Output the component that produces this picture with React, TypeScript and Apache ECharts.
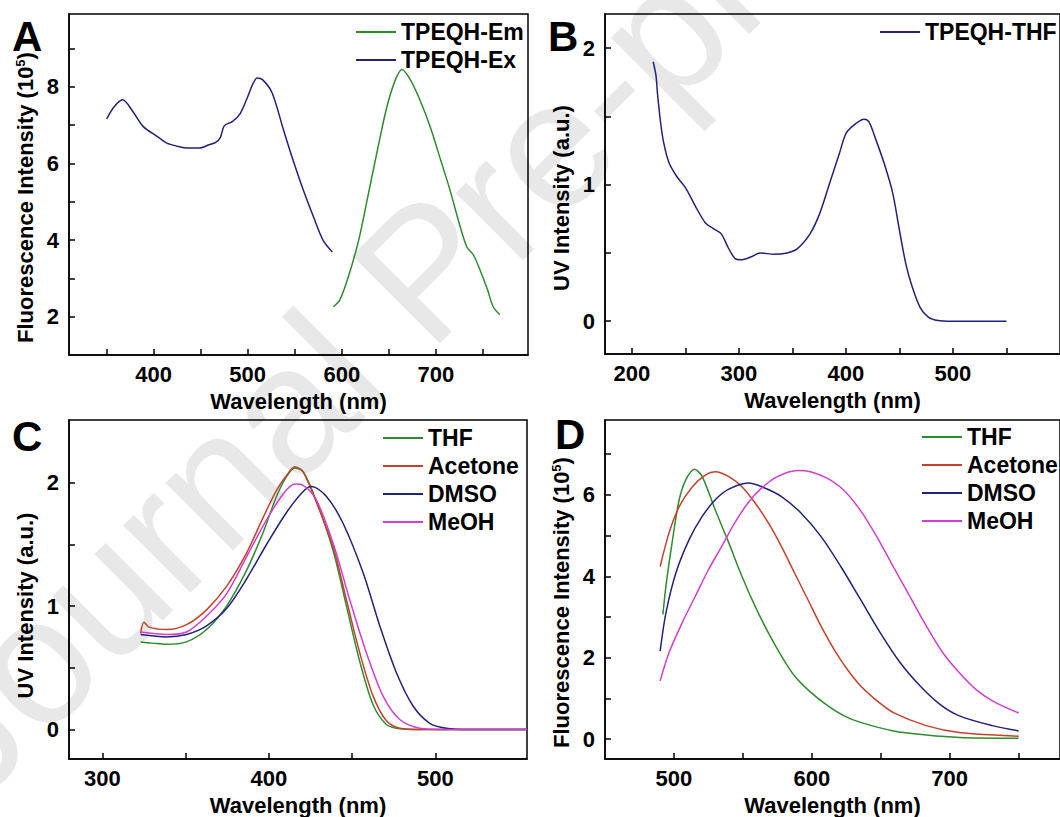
import React, { useEffect, useRef } from "react";
import * as echarts from "echarts";

const FONT = '"Liberation Sans", Arial, Helvetica, sans-serif';

// Panel A: fluorescence excitation / emission
const aExX = [350, 358, 367, 378, 389, 404, 414, 425, 436, 449, 458, 466, 471, 475, 484, 492, 500, 505, 510, 516, 526, 538, 548, 559, 570, 580, 590];
const aExY = [7.16, 7.48, 7.66, 7.35, 6.96, 6.7, 6.53, 6.45, 6.4, 6.4, 6.48, 6.55, 6.68, 6.98, 7.1, 7.3, 7.74, 8.05, 8.23, 8.18, 7.84, 6.88, 6.1, 5.31, 4.6, 4.0, 3.69];
const aEmX = [591, 598, 607, 618, 627, 638, 648, 657, 664, 673, 683, 694, 705, 715, 726, 733, 740, 747, 755, 761, 768];
const aEmY = [2.26, 2.44, 3.04, 4.0, 5.05, 6.36, 7.48, 8.18, 8.45, 8.18, 7.66, 6.96, 6.1, 5.31, 4.34, 3.82, 3.61, 3.22, 2.7, 2.26, 2.05];

// Panel B: UV absorption in THF
const bX = [220, 222.6, 224, 227, 230, 234.8, 242, 250, 259.6, 268.8, 276, 283.6, 290, 296.4, 302, 311, 320, 333, 345, 354.5, 366.5, 375.6, 384.8, 394, 400.4, 409.6, 417, 421.6, 428, 435.6, 443.7, 449.5, 456, 462, 469.4, 477, 486, 499, 520, 550];
const bY = [1.9, 1.8, 1.67, 1.45, 1.3, 1.16, 1.06, 0.98, 0.84, 0.72, 0.68, 0.64, 0.54, 0.46, 0.45, 0.47, 0.5, 0.49, 0.5, 0.53, 0.64, 0.79, 1.01, 1.23, 1.38, 1.45, 1.48, 1.46, 1.33, 1.16, 0.94, 0.69, 0.42, 0.25, 0.1, 0.03, 0.005, 0, 0, 0];

// Panel C: UV absorption in solvents
const cThfX = [323, 330, 338.6, 350.6, 362.6, 374.6, 386.6, 396.6, 404.6, 410.6, 415.6, 420.6, 428.6, 438.6, 446.6, 454.6, 462.6, 470.6, 478.6, 490, 555];
const cThfY = [0.71, 0.7, 0.69, 0.71, 0.81, 1.0, 1.29, 1.6, 1.89, 2.05, 2.12, 2.09, 1.85, 1.45, 1.0, 0.55, 0.2, 0.04, 0.005, 0, 0];
const cAceX = [323, 325, 328, 338.6, 350.6, 362.6, 374.6, 386.6, 396.6, 404.6, 410.6, 415.6, 420.6, 428.6, 438.6, 446.6, 454.6, 462.6, 470.6, 478.6, 490, 555];
const cAceY = [0.78, 0.87, 0.83, 0.81, 0.85, 0.97, 1.16, 1.43, 1.72, 1.94, 2.06, 2.13, 2.09, 1.84, 1.48, 1.05, 0.62, 0.27, 0.07, 0.01, 0, 0];
const cDmsoX = [323, 338.6, 350.6, 362.6, 374.6, 386.6, 398.6, 410.6, 420.6, 425.6, 434.6, 444.6, 456.6, 466.6, 476.6, 486.6, 496.6, 506.6, 520, 555];
const cDmsoY = [0.77, 0.75, 0.77, 0.84, 0.98, 1.22, 1.5, 1.76, 1.93, 1.97, 1.89, 1.67, 1.27, 0.84, 0.46, 0.19, 0.05, 0.01, 0, 0];
const cMeohX = [323, 338.6, 350.6, 362.6, 374.6, 386.6, 398.6, 408.6, 415.6, 420.6, 428.6, 438.6, 448.6, 458.6, 468.6, 478.6, 490.6, 505, 555];
const cMeohY = [0.79, 0.77, 0.79, 0.92, 1.1, 1.4, 1.7, 1.91, 1.99, 1.98, 1.86, 1.51, 1.05, 0.62, 0.27, 0.08, 0.01, 0, 0];

// Panel D: fluorescence in solvents
const dThfX = [492, 494.2, 499, 503.8, 508.6, 515, 520.5, 530, 539.8, 549.3, 558.9, 568.5, 578, 587.5, 599.5, 611.5, 623.4, 635.3, 659.2, 683, 707, 750];
const dThfY = [3.06, 3.76, 4.9, 5.88, 6.37, 6.63, 6.45, 5.63, 4.82, 4.0, 3.26, 2.61, 2.04, 1.55, 1.14, 0.82, 0.57, 0.41, 0.2, 0.1, 0.04, 0.02];
const dAceX = [490, 496.4, 503.8, 513.4, 523, 530, 539.8, 549.3, 558.9, 568.5, 578, 587.5, 597.1, 606.6, 616.2, 625.8, 635.3, 647.3, 659.2, 683, 707, 750];
const dAceY = [4.24, 5.06, 5.71, 6.2, 6.49, 6.57, 6.45, 6.2, 5.8, 5.31, 4.73, 4.08, 3.43, 2.78, 2.2, 1.71, 1.31, 0.94, 0.65, 0.33, 0.16, 0.07];
const dDmsoX = [490, 494.2, 501.4, 511, 520.5, 530, 539.8, 554, 563.7, 578, 592.3, 606.6, 621, 635.3, 649.7, 664, 678.4, 692.7, 707, 730.9, 750];
const dDmsoY = [2.16, 3.1, 4.08, 4.9, 5.47, 5.88, 6.14, 6.29, 6.2, 5.96, 5.55, 4.98, 4.24, 3.43, 2.61, 1.88, 1.31, 0.86, 0.57, 0.33, 0.2];
const dMeohX = [490, 496.4, 506, 515.5, 525, 534.6, 544.1, 553.7, 563.3, 575, 589.6, 599, 611, 623, 635, 647, 659, 671, 683, 695, 707, 719, 730.9, 750];
const dMeohY = [1.43, 2.12, 2.86, 3.51, 4.16, 4.73, 5.31, 5.8, 6.16, 6.45, 6.6, 6.57, 6.41, 6.12, 5.63, 4.98, 4.24, 3.51, 2.78, 2.12, 1.63, 1.22, 0.94, 0.64];

// Axis ticks / labels
const aXTicks = [350, 400, 450, 500, 550, 600, 650, 700, 750];
const aXLabels = [400, 500, 600, 700];
const aYTicks = [2, 3, 4, 5, 6, 7, 8, 9];
const aYLabels = [2, 4, 6, 8];
const bXTicks = [200, 250, 300, 350, 400, 450, 500, 550];
const bXLabels = [200, 300, 400, 500];
const bYTicks = [0, 0.5, 1, 1.5, 2];
const bYLabels = [0, 1, 2];
const cXTicks = [300, 350, 400, 450, 500];
const cXLabels = [300, 400, 500];
const cYTicks = [0, 0.5, 1, 1.5, 2];
const cYLabels = [0, 1, 2];
const dXTicks = [500, 550, 600, 650, 700, 750];
const dXLabels = [500, 600, 700];
const dYTicks = [0, 1, 2, 3, 4, 5, 6, 7];
const dYLabels = [0, 2, 4, 6];

const GREEN = "#2e8b2e";
const RED = "#c4412b";
const NAVY = "#22227a";
const MAGENTA = "#d040d0";

const zip = (xs: number[], ys: number[]) => xs.map((x, i) => [x, ys[i]]);

const labelStyle = { color: "#000", fontWeight: "bold", fontSize: 22, fontFamily: FONT };

function xAxis(gridIndex: number, min: number, max: number, ticks: number[], labels: number[]) {
  return {
    type: "value",
    gridIndex,
    min,
    max,
    position: "bottom",
    axisLine: { show: true, onZero: false, lineStyle: { color: "#000", width: 1.5 } },
    axisTick: { show: true, inside: true, length: 6, customValues: ticks, lineStyle: { color: "#000", width: 1.5 } },
    axisLabel: { ...labelStyle, margin: 8, customValues: labels },
    splitLine: { show: false },
    name: "Wavelength (nm)",
    nameLocation: "middle",
    nameGap: 35,
    nameTextStyle: { ...labelStyle },
  };
}

function yAxis(gridIndex: number, min: number, max: number, ticks: number[], labels: number[], name: string, nameGap: number, shift: number) {
  return {
    type: "value",
    gridIndex,
    min,
    max,
    position: "left",
    axisLine: { show: true, onZero: false, lineStyle: { color: "#000", width: 1.5 } },
    axisTick: { show: true, inside: true, length: 6, customValues: ticks, lineStyle: { color: "#000", width: 1.5 } },
    axisLabel: { ...labelStyle, margin: 10, customValues: labels },
    splitLine: { show: false },
    name,
    nameLocation: "middle",
    nameGap,
    nameTextStyle: {
      ...labelStyle,
      padding: [0, shift * 2, 0, 0],
      rich: {
        sup: { fontSize: 13, fontWeight: "bold", fontFamily: FONT, color: "#000", verticalAlign: "top", padding: [0, 0, 8, 0] },
      },
    },
  };
}

function line(name: string, color: string, xi: number, xs: number[], ys: number[]) {
  return {
    type: "line",
    name,
    xAxisIndex: xi,
    yAxisIndex: xi,
    data: zip(xs, ys),
    showSymbol: false,
    smooth: 0.3,
    color,
    lineStyle: { color, width: 1.5 },
    z: 3,
    silent: true,
  };
}

function legend(left: number, top: number, data: string[]) {
  return {
    orient: "vertical",
    left,
    top,
    padding: 0,
    itemWidth: 40,
    itemHeight: 2,
    itemGap: 4,
    icon: "rect",
    selectedMode: false,
    data,
    textStyle: { ...labelStyle, fontSize: 23, lineHeight: 24 },
  };
}

const gridBase = { show: true, borderColor: "#000", borderWidth: 1.5, backgroundColor: "transparent", containLabel: false };

function letter(text: string, x: number, y: number) {
  return {
    type: "text",
    x,
    y,
    z: 10,
    style: { text, fill: "#000", font: `bold 42px ${FONT}`, verticalAlign: "middle", align: "left" },
  };
}

export default function App() {
  const ref = useRef<HTMLDivElement>(null);
  useEffect(() => {
    if (!ref.current) return;
    const chart = echarts.init(ref.current, undefined, { renderer: "svg" });
    const option: any = {
      animation: false,
      backgroundColor: "#ffffff",
      grid: [
        { ...gridBase, left: 69, right: 532, top: 14, bottom: 462 },
        { ...gridBase, left: 605, right: -7, top: 14, bottom: 463 },
        { ...gridBase, left: 69, right: 533, top: 420, bottom: 57 },
        { ...gridBase, left: 605, right: -5, top: 420, bottom: 57 },
      ],
      xAxis: [
        xAxis(0, 310, 798, aXTicks, aXLabels),
        xAxis(1, 175, 600, bXTicks, bXLabels),
        xAxis(2, 280, 555, cXTicks, cXLabels),
        xAxis(3, 450, 780, dXTicks, dXLabels),
      ],
      yAxis: [
        yAxis(0, 1.0, 9.9, aYTicks, aYLabels, "Fluorescence Intensity (10{sup|5})", 33, 13),
        yAxis(1, -0.24, 2.25, bYTicks, bYLabels, "UV Intensity (a.u.)", 33, 14),
        yAxis(2, -0.24, 2.51, cYTicks, cYLabels, "UV Intensity (a.u.)", 33, 16),
        yAxis(3, -0.49, 7.84, dYTicks, dYLabels, "Fluorescence Intensity (10{sup|5})", 33, 13),
      ],
      legend: [
        legend(356, 20, ["TPEQH-Em", "TPEQH-Ex"]),
        legend(880, 20, ["TPEQH-THF"]),
        legend(383, 426, ["THF", "Acetone", "DMSO", "MeOH"]),
        legend(922, 425, ["THF", "Acetone", "DMSO", "MeOH"]),
      ],
      series: [
        line("TPEQH-Em", GREEN, 0, aEmX, aEmY),
        line("TPEQH-Ex", NAVY, 0, aExX, aExY),
        line("TPEQH-THF", NAVY, 1, bX, bY),
        line("THF", GREEN, 2, cThfX, cThfY),
        line("Acetone", RED, 2, cAceX, cAceY),
        line("DMSO", NAVY, 2, cDmsoX, cDmsoY),
        line("MeOH", MAGENTA, 2, cMeohX, cMeohY),
        line("THF", GREEN, 3, dThfX, dThfY),
        line("Acetone", RED, 3, dAceX, dAceY),
        line("DMSO", NAVY, 3, dDmsoX, dDmsoY),
        line("MeOH", MAGENTA, 3, dMeohX, dMeohY),
      ],
      graphic: [
        {
          type: "text",
          x: -4,
          y: 826,
          rotation: Math.PI / 4,
          z: -5,
          silent: true,
          style: { text: "Journal Pre-proof", fill: "#e8e8e8", font: `180px ${FONT}`, verticalAlign: "bottom", align: "left" },
        },
        letter("A", 12, 36),
        letter("B", 548, 36),
        letter("C", 12, 436),
        letter("D", 555, 434),
      ],
    };
    chart.setOption(option);
    return () => chart.dispose();
  }, []);
  return <div ref={ref} style={{ position: "fixed", left: 0, top: 0, width: 1060, height: 817 }} />;
}
